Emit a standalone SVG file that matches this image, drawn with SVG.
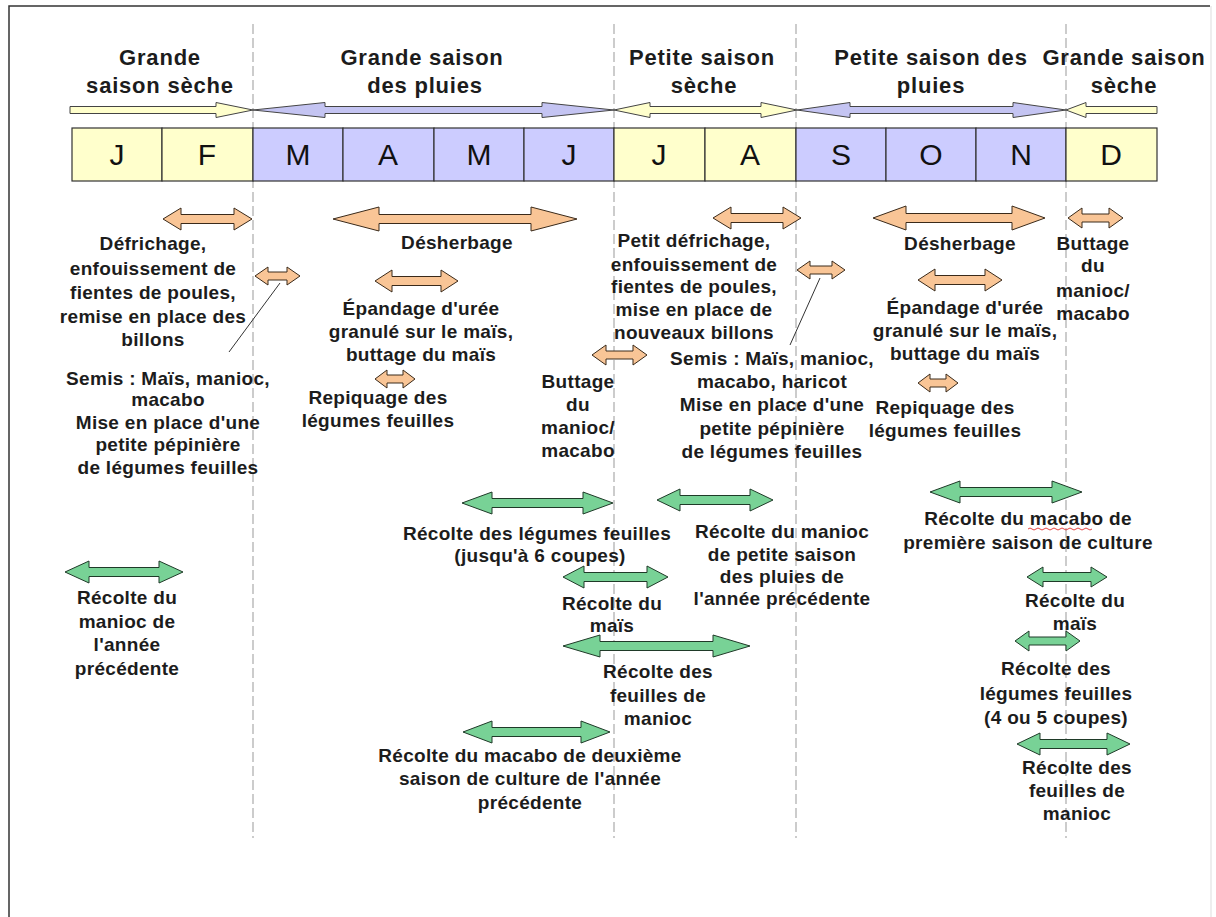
<svg xmlns="http://www.w3.org/2000/svg" width="1216" height="917" viewBox="0 0 1216 917">
<style>
.bg{fill:#fff}
.frame{stroke:#333;stroke-width:1.5;fill:none}
.frame2{stroke:#ddd;stroke-width:1;fill:none}
.vl{stroke:#999;stroke-width:1;stroke-dasharray:10 4;fill:none}
.t{font-family:"Liberation Sans",Arial,sans-serif;font-weight:bold;font-size:19px;fill:#1c1c1c;text-anchor:middle;letter-spacing:0.3px}
.s{font-family:"Liberation Sans",Arial,sans-serif;font-weight:bold;font-size:22px;fill:#1c1c1c;text-anchor:middle;letter-spacing:0.8px}
.m{font-family:"Liberation Sans",Arial,sans-serif;font-size:30px;fill:#111;text-anchor:middle}
.cy{fill:#FFFFCC;stroke:#333;stroke-width:1.2}
.cb{fill:#CCCCFF;stroke:#333;stroke-width:1.2}
.ay{fill:#FFFFCC;stroke:#444;stroke-width:1}
.ab{fill:#C4C4F2;stroke:#444;stroke-width:1}
.ao{fill:#F9C596;stroke:#3a2a1a;stroke-width:1}
.ag{fill:#78D296;stroke:#1f3a28;stroke-width:1}
.ln{stroke:#333;stroke-width:1;fill:none}
.sq{stroke:#e03030;stroke-width:0.9;fill:none}
</style>
<rect class="bg" x="0" y="0" width="1216" height="917"/>
<path class="frame2" d="M1211,6 L1211,917"/>
<path class="frame" d="M9,917 L9,6 L1210,6"/>

<g id="guides">
<path class="vl" d="M253,24 L253,838"/>
<path class="vl" d="M614,24 L614,838"/>
<path class="vl" d="M796,24 L796,838"/>
<path class="vl" d="M1066,24 L1066,838"/>
</g>

<g id="seasons">
<g id="season-gss1">
<text class="s" x="160" y="65">Grande</text>
<text class="s" x="160" y="93">saison sèche</text>
<path class="ay" d="M70,106.5 L216,106.5 L216,102.5 L253,110 L216,117.5 L216,113.5 L70,113.5 Z"/>
</g>
<g id="season-gsp">
<text class="s" x="422" y="65">Grande saison</text>
<text class="s" x="425" y="93">des pluies</text>
<path class="ab" d="M253,110 L325,102.5 L325,106.5 L542,106.5 L542,102.5 L614,110 L542,117.5 L542,113.5 L325,113.5 L325,117.5 Z"/>
</g>
<g id="season-pss">
<text class="s" x="702" y="65">Petite saison</text>
<text class="s" x="704" y="93">sèche</text>
<path class="ay" d="M614,110 L650,102.5 L650,106.5 L761,106.5 L761,102.5 L797,110 L761,117.5 L761,113.5 L650,113.5 L650,117.5 Z"/>
</g>
<g id="season-psp">
<text class="s" x="931" y="65">Petite saison des</text>
<text class="s" x="931" y="93">pluies</text>
<path class="ab" d="M797,110 L850,102.5 L850,106.5 L1013,106.5 L1013,102.5 L1066,110 L1013,117.5 L1013,113.5 L850,113.5 L850,117.5 Z"/>
</g>
<g id="season-gss2">
<text class="s" x="1124" y="65">Grande saison</text>
<text class="s" x="1124" y="93">sèche</text>
<path class="ay" d="M1066,110 L1086,102.5 L1086,106.5 L1157,106.5 L1157,113.5 L1086,113.5 L1086,117.5 Z"/>
</g>
</g>

<g id="months">
<rect class="cy" x="72" y="128" width="90" height="53"/><text class="m" x="117" y="165">J</text>
<rect class="cy" x="162" y="128" width="91" height="53"/><text class="m" x="207" y="165">F</text>
<rect class="cb" x="253" y="128" width="90" height="53"/><text class="m" x="298" y="165">M</text>
<rect class="cb" x="343" y="128" width="91" height="53"/><text class="m" x="388" y="165">A</text>
<rect class="cb" x="434" y="128" width="90" height="53"/><text class="m" x="479" y="165">M</text>
<rect class="cb" x="524" y="128" width="90" height="53"/><text class="m" x="569" y="165">J</text>
<rect class="cy" x="614" y="128" width="91" height="53"/><text class="m" x="659" y="165">J</text>
<rect class="cy" x="705" y="128" width="91" height="53"/><text class="m" x="750" y="165">A</text>
<rect class="cb" x="796" y="128" width="90" height="53"/><text class="m" x="841" y="165">S</text>
<rect class="cb" x="886" y="128" width="90" height="53"/><text class="m" x="931" y="165">O</text>
<rect class="cb" x="976" y="128" width="90" height="53"/><text class="m" x="1021" y="165">N</text>
<rect class="cy" x="1066" y="128" width="91" height="53"/><text class="m" x="1111" y="165">D</text>
</g>

<g id="connectors">
<path class="ln" d="M280,283 L229,352"/>
<path class="ln" d="M820,278 L790,345"/>
</g>

<g id="n-defrichage">
<path class="ao" d="M163,219 L181,208 L181,214.5 L234,214.5 L234,208 L252,219 L234,230 L234,223.5 L181,223.5 L181,230 Z"/>
<text class="t" x="153" y="250">Défrichage,</text>
<text class="t" x="153" y="275">enfouissement de</text>
<text class="t" x="153" y="299">fientes de poules,</text>
<text class="t" x="153" y="323">remise en place des</text>
<text class="t" x="153" y="346">billons</text>
</g>

<g id="n-semis1">
<path class="ao" d="M255,276 L268,267 L268,272 L287,272 L287,267 L300,276 L287,285 L287,280 L268,280 L268,285 Z"/>
<text class="t" x="168" y="385">Semis : Maïs, manioc,</text>
<text class="t" x="168" y="406">macabo</text>
<text class="t" x="168" y="429">Mise en place d'une</text>
<text class="t" x="168" y="451">petite pépinière</text>
<text class="t" x="168" y="474">de légumes feuilles</text>
</g>

<g id="n-recolte-manioc-prec">
<path class="ag" d="M65,572 L89,561 L89,567.5 L159,567.5 L159,561 L183,572 L159,583 L159,576.5 L89,576.5 L89,583 Z"/>
<text class="t" x="127" y="604">Récolte du</text>
<text class="t" x="127" y="628">manioc de</text>
<text class="t" x="127" y="651">l'année</text>
<text class="t" x="127" y="675">précédente</text>
</g>

<g id="n-desherbage1">
<path class="ao" d="M333,219 L379,207 L379,214.5 L531,214.5 L531,207 L577,219 L531,231 L531,223.5 L379,223.5 L379,231 Z"/>
<text class="t" x="457" y="249">Désherbage</text>
</g>

<g id="n-epandage1">
<path class="ao" d="M375,281 L392,270 L392,276.5 L441,276.5 L441,270 L458,281 L441,292 L441,285.5 L392,285.5 L392,292 Z"/>
<text class="t" x="421" y="315">Épandage d'urée</text>
<text class="t" x="421" y="338">granulé sur le maïs,</text>
<text class="t" x="421" y="361">buttage du maïs</text>
</g>

<g id="n-repiquage1">
<path class="ao" d="M375,379 L387,370 L387,375 L403,375 L403,370 L415,379 L403,388 L403,383 L387,383 L387,388 Z"/>
<text class="t" x="378" y="404">Repiquage des</text>
<text class="t" x="378" y="427">légumes feuilles</text>
</g>

<g id="n-buttage1">
<path class="ao" d="M592,355 L606,345 L606,351 L633,351 L633,345 L647,355 L633,365 L633,359 L606,359 L606,365 Z"/>
<text class="t" x="578" y="388">Buttage</text>
<text class="t" x="578" y="411">du</text>
<text class="t" x="578" y="434">manioc/</text>
<text class="t" x="578" y="457">macabo</text>
</g>

<g id="n-petit-defrichage">
<path class="ao" d="M713,218 L731,207 L731,213.5 L783,213.5 L783,207 L801,218 L783,229 L783,222.5 L731,222.5 L731,229 Z"/>
<text class="t" x="694" y="247">Petit défrichage,</text>
<text class="t" x="694" y="271">enfouissement de</text>
<text class="t" x="694" y="293">fientes de poules,</text>
<text class="t" x="694" y="316">mise en place de</text>
<text class="t" x="694" y="339">nouveaux billons</text>
</g>

<g id="n-semis2">
<path class="ao" d="M797,270 L810,261 L810,266 L832,266 L832,261 L845,270 L832,279 L832,274 L810,274 L810,279 Z"/>
<text class="t" x="772" y="365">Semis : Maïs, manioc,</text>
<text class="t" x="772" y="388">macabo, haricot</text>
<text class="t" x="772" y="411">Mise en place d'une</text>
<text class="t" x="772" y="435">petite pépinière</text>
<text class="t" x="772" y="458">de légumes feuilles</text>
</g>

<g id="n-desherbage2">
<path class="ao" d="M873,218 L906,206 L906,213.5 L1012,213.5 L1012,206 L1045,218 L1012,230 L1012,222.5 L906,222.5 L906,230 Z"/>
<text class="t" x="960" y="250">Désherbage</text>
</g>

<g id="n-buttage2">
<path class="ao" d="M1068,218 L1082,208 L1082,214 L1109,214 L1109,208 L1123,218 L1109,228 L1109,222 L1082,222 L1082,228 Z"/>
<text class="t" x="1093" y="250">Buttage</text>
<text class="t" x="1093" y="272">du</text>
<text class="t" x="1093" y="297">manioc/</text>
<text class="t" x="1093" y="320">macabo</text>
</g>

<g id="n-epandage2">
<path class="ao" d="M918,280 L935,269 L935,275.5 L985,275.5 L985,269 L1002,280 L985,291 L985,284.5 L935,284.5 L935,291 Z"/>
<text class="t" x="965" y="314">Épandage d'urée</text>
<text class="t" x="965" y="337">granulé sur le maïs,</text>
<text class="t" x="965" y="360">buttage du maïs</text>
</g>

<g id="n-repiquage2">
<path class="ao" d="M918,383 L930,374 L930,379 L946,379 L946,374 L958,383 L946,392 L946,387 L930,387 L930,392 Z"/>
<text class="t" x="945" y="414">Repiquage des</text>
<text class="t" x="945" y="437">légumes feuilles</text>
</g>

<g id="n-recolte-legumes1">
<path class="ag" d="M462,503 L492,492 L492,498.5 L583,498.5 L583,492 L613,503 L583,514 L583,507.5 L492,507.5 L492,514 Z"/>
<text class="t" x="537" y="540">Récolte des légumes feuilles</text>
<text class="t" x="540" y="562">(jusqu'à 6 coupes)</text>
</g>

<g id="n-recolte-manioc-psp">
<path class="ag" d="M657,500 L680,489 L680,495.5 L750,495.5 L750,489 L773,500 L750,511 L750,504.5 L680,504.5 L680,511 Z"/>
<text class="t" x="782" y="538">Récolte du manioc</text>
<text class="t" x="782" y="561">de petite saison</text>
<text class="t" x="782" y="583">des pluies de</text>
<text class="t" x="782" y="605">l'année précédente</text>
</g>

<g id="n-recolte-mais1">
<path class="ag" d="M563,577 L584,566 L584,572.5 L647,572.5 L647,566 L668,577 L647,588 L647,581.5 L584,581.5 L584,588 Z"/>
<text class="t" x="612" y="610">Récolte du</text>
<text class="t" x="612" y="632">maïs</text>
</g>

<g id="n-recolte-feuilles-manioc1">
<path class="ag" d="M563,646 L600,635 L600,641.5 L713,641.5 L713,635 L750,646 L713,657 L713,650.5 L600,650.5 L600,657 Z"/>
<text class="t" x="658" y="678">Récolte des</text>
<text class="t" x="658" y="702">feuilles de</text>
<text class="t" x="658" y="725">manioc</text>
</g>

<g id="n-recolte-macabo2">
<path class="ag" d="M463,732 L492,721 L492,727.5 L581,727.5 L581,721 L610,732 L581,743 L581,736.5 L492,736.5 L492,743 Z"/>
<text class="t" x="530" y="762">Récolte du macabo de deuxième</text>
<text class="t" x="530" y="785">saison de culture de l'année</text>
<text class="t" x="530" y="809">précédente</text>
</g>

<g id="n-recolte-macabo1">
<path class="ag" d="M930,492 L960,481 L960,487.5 L1052,487.5 L1052,481 L1082,492 L1052,503 L1052,496.5 L960,496.5 L960,503 Z"/>
<text class="t" x="1028" y="525">Récolte du macabo de</text>
<text class="t" x="1028" y="549">première saison de culture</text>
<path class="sq" d="M1028,529 q2,-2 4,0 t4,0 t4,0 t4,0 t4,0 t4,0 t4,0 t4,0 t4,0 t4,0 t4,0 t4,0 t4,0 t4,0 t4,0 t4,0"/>
</g>

<g id="n-recolte-mais2">
<path class="ag" d="M1027,577 L1043,567 L1043,572.5 L1091,572.5 L1091,567 L1107,577 L1091,587 L1091,581.5 L1043,581.5 L1043,587 Z"/>
<text class="t" x="1075" y="607">Récolte du</text>
<text class="t" x="1075" y="630">maïs</text>
</g>

<g id="n-recolte-legumes2">
<path class="ag" d="M1015,641 L1029,631 L1029,637 L1066,637 L1066,631 L1080,641 L1066,651 L1066,645 L1029,645 L1029,651 Z"/>
<text class="t" x="1056" y="675">Récolte des</text>
<text class="t" x="1056" y="700">légumes feuilles</text>
<text class="t" x="1056" y="724">(4 ou 5 coupes)</text>
</g>

<g id="n-recolte-feuilles-manioc2">
<path class="ag" d="M1017,744 L1040,733 L1040,739.5 L1107,739.5 L1107,733 L1130,744 L1107,755 L1107,748.5 L1040,748.5 L1040,755 Z"/>
<text class="t" x="1077" y="774">Récolte des</text>
<text class="t" x="1077" y="797">feuilles de</text>
<text class="t" x="1077" y="820">manioc</text>
</g>
</svg>
